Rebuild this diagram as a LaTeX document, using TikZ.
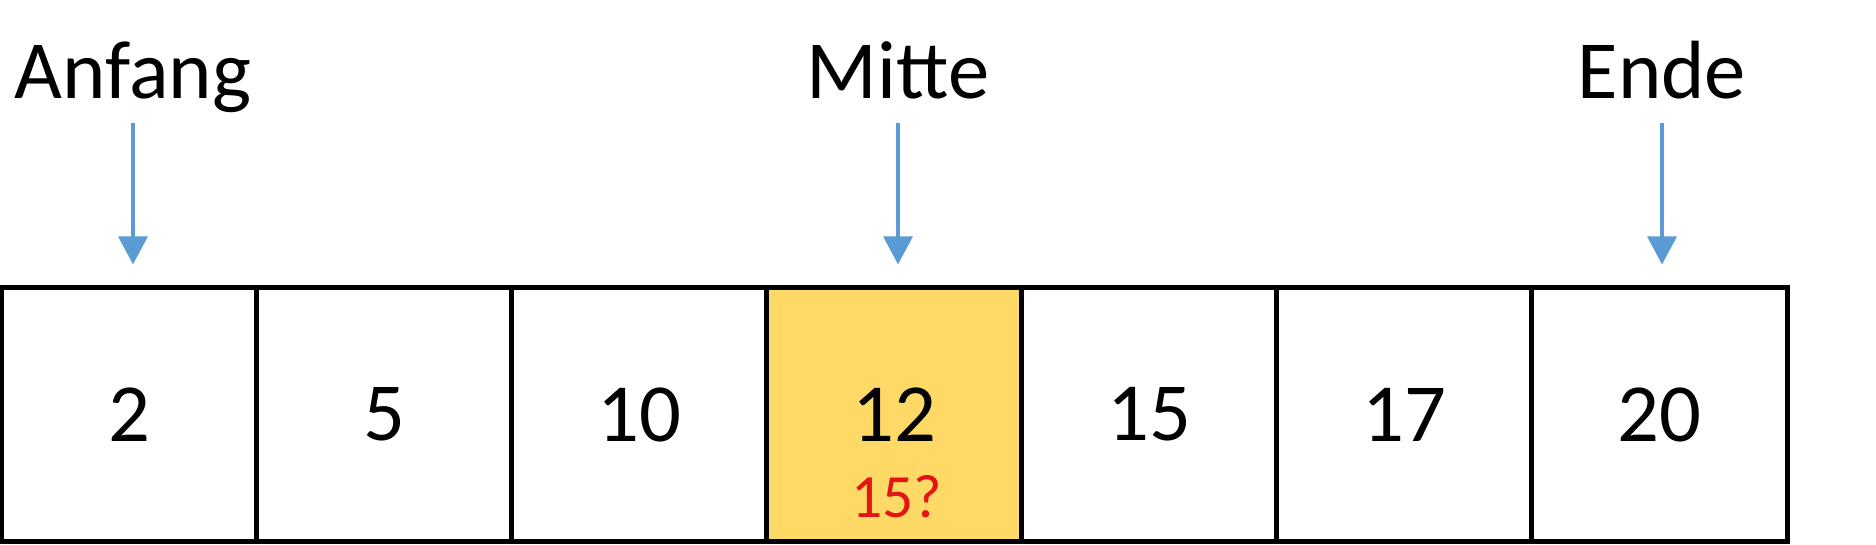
\documentclass[tikz,border=0pt]{standalone}
\usepackage{fontspec}
\setmainfont{Carlito}
\usetikzlibrary{arrows.meta}
\definecolor{zeigerblau}{RGB}{91,155,213}
\definecolor{mittegelb}{RGB}{255,217,102}
\definecolor{fragerot}{RGB}{228,20,20}
\tikzset{
  zelle/.style={draw,line width=1.4pt,minimum width=2.55cm,minimum height=2.53cm,inner sep=0pt,font=\fontsize{23.5}{28}\selectfont},
  marke/.style={anchor=base,inner sep=0pt,text depth=0pt,font=\fontsize{23.5}{28}\selectfont},
  zeiger/.style={draw=zeigerblau,line width=0.9pt,-{Triangle[width=0.29cm,length=0.28cm]},shorten <=0.24cm,shorten >=0.21cm}
}
\begin{document}
\begin{tikzpicture}[x=0.01cm,y=-0.01cm]
\useasboundingbox (0,0) rectangle (1876,544);
\foreach \w/\f [count=\i] in {2/white,5/white,10/white,12/mittegelb,15/white,17/white,20/white}
  \node[zelle,fill=\f] (z\i) at ({2+255*(\i-0.5)},414.5) {\w};
\node[anchor=base,inner sep=0pt,text=fragerot,font=\fontsize{17.5}{21}\selectfont] (frage) at (897,517) {15?};
\node[marke] (anfang) at (133,98) {Anfang};
\node[marke] (mitte) at (898,98) {Mitte};
\node[marke] (ende) at (1662,98) {Ende};
\draw[zeiger] (anfang.south) -- (anfang.south |- z1.north);
\draw[zeiger] (mitte.south) -- (mitte.south |- z4.north);
\draw[zeiger] (ende.south) -- (ende.south |- z7.north);
\end{tikzpicture}
\end{document}
